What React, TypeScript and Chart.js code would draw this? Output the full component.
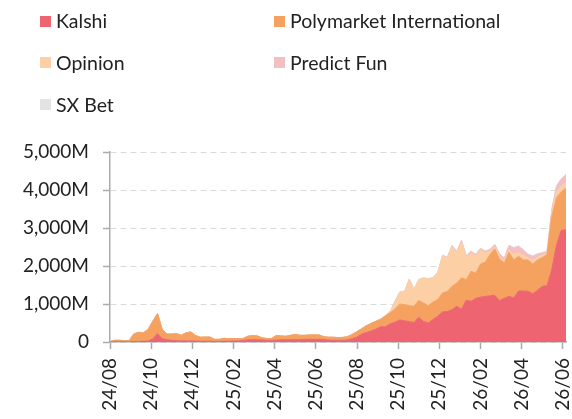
import React, { useEffect, useRef } from 'react';
import { Chart, registerables } from 'chart.js';

Chart.register(...registerables);

const SERIES_NAMES = ['Kalshi', 'Polymarket International', 'Opinion', 'Predict Fun', 'SX Bet'];
const SERIES_COLORS = ['#EE6470', '#F5A261', '#FCCFA4', '#F2BFC3', '#E3E3E3'];

// weekly volumes (millions USD), starting Aug 2024
const KALSHI = [
  0, 5, 5, 5, 5, 10, 15, 20, 25, 80, 220, 90, 60, 45, 35, 30, 30, 30, 25, 20, 20, 20, 15, 15, 20, 20, 25, 30, 40, 60,
  60, 60, 55, 45, 45, 50, 60, 60, 60, 60, 60, 70, 70, 70, 70, 65, 50, 45, 45, 45, 55, 90, 130, 210, 250, 290, 340, 400, 400, 480,
  520, 580, 560, 535, 515, 650, 540, 500, 590, 680, 790, 805, 850, 940, 860, 1100, 1070, 1150, 1180, 1200,
  1215, 1230, 1090, 1150, 1200, 1165, 1340, 1340, 1335, 1270, 1360, 1465, 1480, 1900, 2550, 2940, 2950,
];
const POLYMARKET = [
  15, 40, 40, 30, 30, 200, 240, 220, 305, 465, 525, 240, 150, 165, 185, 145, 210, 235, 145, 105, 110, 110, 55, 55, 75, 70, 65, 60, 50, 90,
  110, 100, 55, 45, 45, 120, 100, 90, 115, 135, 115, 105, 115, 115, 115, 75, 75, 80, 70, 75, 85, 110, 140, 140, 180, 200, 205, 200, 290, 290,
  350, 420, 425, 420, 425, 445, 485, 455, 460, 435, 500, 525, 615, 610, 830, 540, 790, 660, 870, 900,
  1085, 1220, 1095, 930, 1160, 995, 915, 820, 825, 780, 800, 755, 820, 1400, 1250, 1010, 1100,
];
const OPINION = [
  0, 0, 0, 0, 0, 0, 0, 0, 0, 0, 0, 0, 0, 0, 0, 0, 0, 0, 0, 0, 0, 0, 0, 0, 0, 0, 0, 0, 0, 0,
  0, 0, 0, 0, 0, 0, 0, 0, 0, 0, 0, 0, 0, 0, 0, 0, 0, 0, 0, 0, 0, 0, 0, 0, 0, 0, 0, 0, 0, 30,
  200, 310, 345, 695, 440, 545, 655, 705, 640, 700, 965, 870, 1035, 800, 940, 590, 480, 450, 360, 240,
  80, 50, 70, 40, 70, 140, 90, 120, 50, 110, 70, 70, 30, 100, 150, 150, 150,
];
const PREDICT_FUN = [
  0, 0, 0, 0, 0, 0, 0, 0, 0, 0, 0, 0, 0, 0, 0, 0, 0, 0, 0, 0, 0, 0, 0, 0, 0, 0, 0, 0, 0, 0,
  0, 0, 0, 0, 0, 0, 0, 0, 0, 0, 0, 0, 0, 0, 0, 0, 0, 0, 0, 0, 0, 0, 0, 0, 0, 0, 0, 0, 0, 0,
  0, 0, 0, 0, 0, 0, 0, 0, 0, 10, 20, 25, 30, 30, 35, 35, 40, 40, 45, 45,
  50, 60, 60, 80, 105, 170, 170, 140, 90, 95, 80, 50, 45, 80, 150, 180, 200,
];
const SX_BET = [
  2, 2, 2, 2, 2, 3, 3, 3, 3, 4, 5, 3, 3, 3, 3, 3, 3, 3, 3, 3, 3, 3, 3, 3, 3, 3, 3, 3, 3, 4,
  4, 4, 4, 4, 4, 4, 4, 4, 4, 5, 5, 5, 5, 5, 5, 5, 5, 5, 5, 5, 5, 6, 6, 6, 7, 7, 8, 8, 9, 10,
  10, 12, 12, 11, 11, 12, 12, 12, 13, 13, 14, 14, 15, 15, 15, 14, 15, 15, 16, 16,
  16, 17, 16, 16, 17, 16, 16, 15, 15, 15, 15, 16, 16, 18, 20, 22, 22,
];

const X_TICK_LABELS = ['24/08', '24/10', '24/12', '25/02', '25/04', '25/06', '25/08', '25/10', '25/12', '26/02', '26/04', '26/06'];
const Y_MAX = 5000;
const Y_STEP = 1000;
const WEEKS_PER_MONTH = 52 / 12;

const FONT_FAMILY = 'Lato, "Noto Sans", sans-serif';
const TEXT_COLOR = '#222222';
const AXIS_COLOR = '#ababab';

export default function App() {
  const canvasRef = useRef<HTMLCanvasElement>(null);

  useEffect(() => {
    if (!canvasRef.current) return;
    const series = [KALSHI, POLYMARKET, OPINION, PREDICT_FUN, SX_BET];
    const chart = new Chart(canvasRef.current, {
      type: 'line',
      data: {
        datasets: series.map((vals, k) => ({
          label: SERIES_NAMES[k],
          data: vals.map((v, i) => ({ x: i / WEEKS_PER_MONTH, y: v })),
          backgroundColor: SERIES_COLORS[k],
          borderColor: SERIES_COLORS[k],
          borderWidth: 1,
          pointRadius: 0,
          pointHoverRadius: 0,
          tension: 0,
          fill: k === 0 ? 'origin' : '-1',
        })),
      },
      options: {
        animation: false,
        responsive: false,
        maintainAspectRatio: false,
        layout: { padding: { top: 152, right: 6, left: 0, bottom: 0 } },
        plugins: {
          legend: { display: false },
          tooltip: { enabled: false },
        },
        scales: {
          x: {
            type: 'linear',
            min: 0,
            max: (KALSHI.length - 1) / WEEKS_PER_MONTH,
            afterFit: (s: any) => {
              s.height = 77;
              s.paddingLeft = 0;
              s.paddingRight = 0;
            },
            ticks: {
              stepSize: 2,
              includeBounds: false,
              autoSkip: false,
              minRotation: 90,
              maxRotation: 90,
              padding: 9,
              color: TEXT_COLOR,
              font: { family: FONT_FAMILY, size: 19 },
              callback: (v: any) => X_TICK_LABELS[Math.round(Number(v) / 2)] ?? '',
            },
            grid: {
              drawOnChartArea: false,
              drawTicks: true,
              tickLength: 7,
              tickColor: AXIS_COLOR,
              tickWidth: 1.5,
            },
            border: { color: AXIS_COLOR, width: 1.5 },
          },
          y: {
            stacked: true,
            min: 0,
            max: Y_MAX,
            afterFit: (s: any) => {
              s.width = 110;
            },
            ticks: {
              stepSize: Y_STEP,
              padding: 14,
              color: TEXT_COLOR,
              font: { family: FONT_FAMILY, size: 19 },
              callback: (v: any) => (Number(v) === 0 ? '0' : Number(v).toLocaleString('en-US') + 'M'),
            },
            grid: {
              color: '#dadada',
              lineWidth: 1,
              tickLength: 7,
              tickColor: AXIS_COLOR,
              tickWidth: 1.5,
              tickBorderDash: [],
            },
            border: { color: AXIS_COLOR, width: 1.5, dash: [6, 4] },
          },
        },
      } as any,
    });
    return () => chart.destroy();
  }, []);

  const legendCols = [40, 274];
  const legendRows = [21, 62.5, 104.5];

  return (
    <div style={{ position: 'fixed', left: 0, top: 0, width: 572, height: 419, overflow: 'hidden', background: '#fff' }}>
      <canvas ref={canvasRef} width={572} height={419} style={{ position: 'absolute', left: 0, top: 0, width: 572, height: 419 }} />
      {SERIES_NAMES.map((name, k) => (
        <div
          key={name}
          style={{
            position: 'absolute',
            left: legendCols[k % 2],
            top: legendRows[Math.floor(k / 2)] - 14,
            height: 28,
            display: 'flex',
            alignItems: 'center',
            whiteSpace: 'nowrap',
          }}
        >
          <span style={{ display: 'inline-block', width: 11, height: 11, background: SERIES_COLORS[k] }} />
          <span style={{ marginLeft: 5, fontFamily: FONT_FAMILY, fontSize: 19.5, color: TEXT_COLOR, lineHeight: '28px' }}>{name}</span>
        </div>
      ))}
    </div>
  );
}
